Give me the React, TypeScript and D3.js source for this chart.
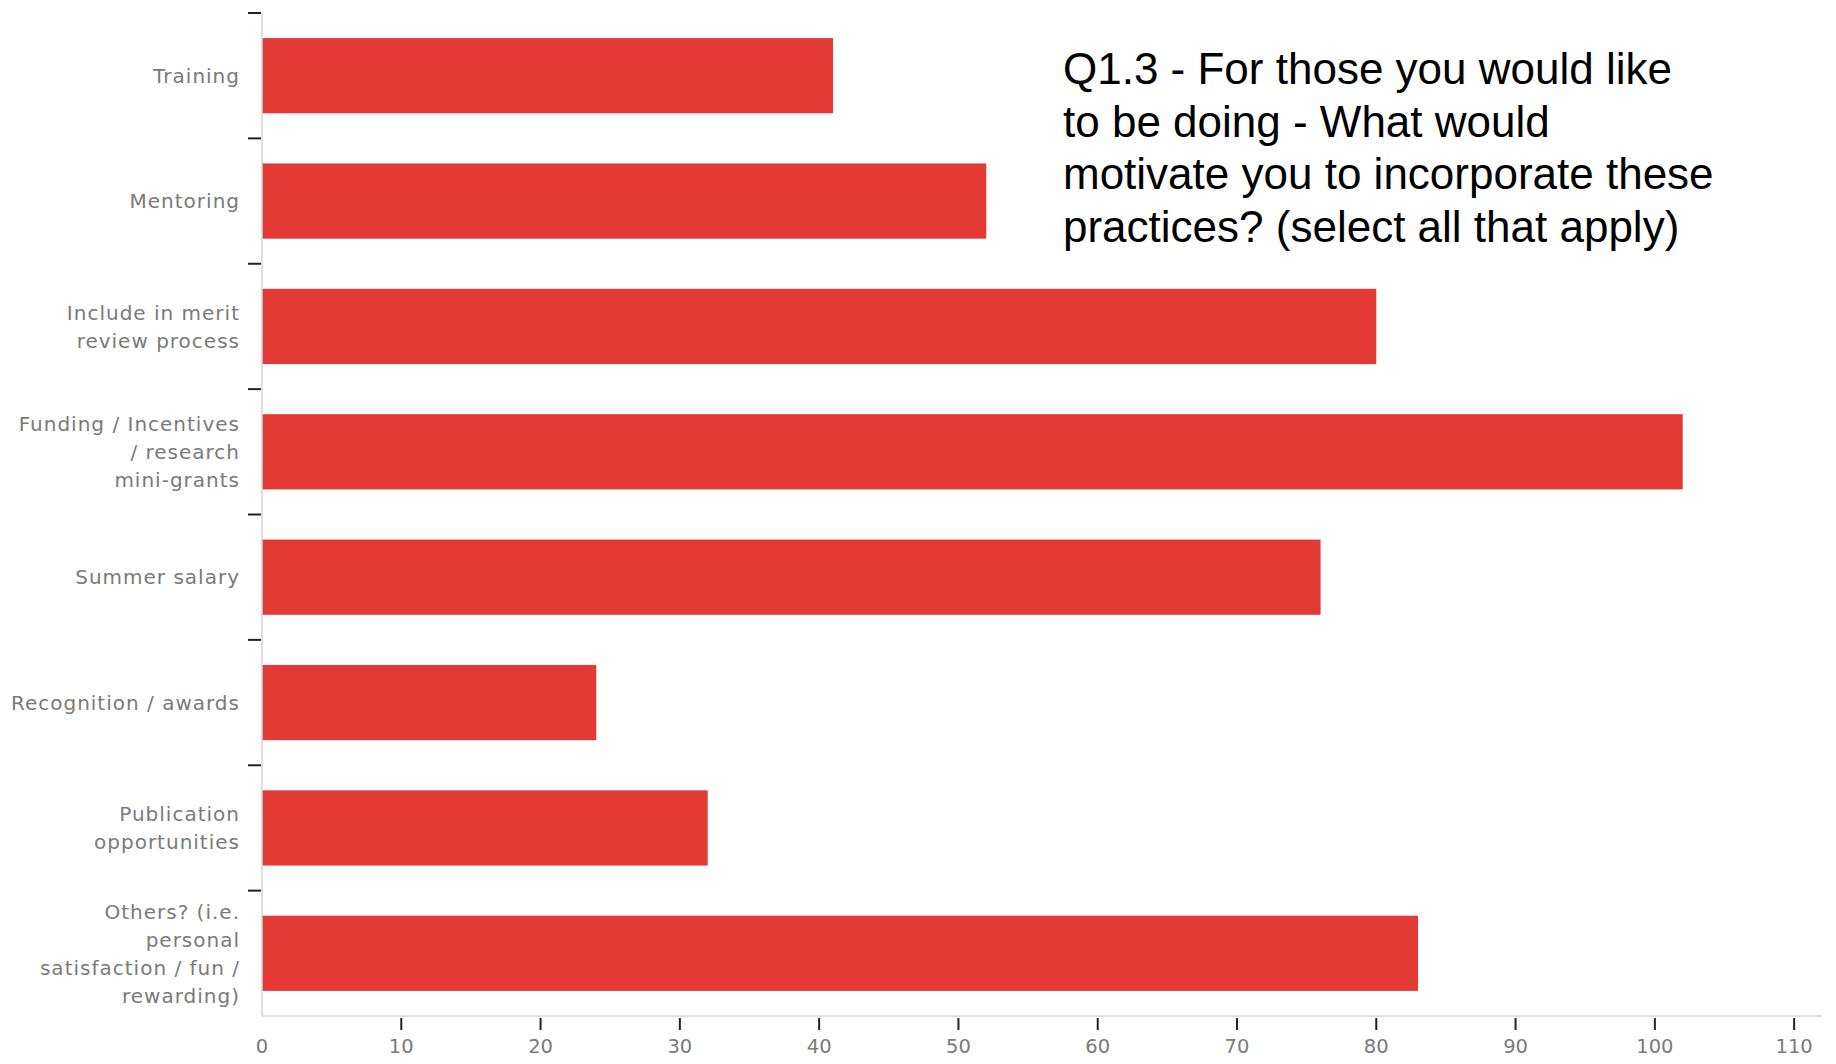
import React from "react";
import * as d3 from "d3";

const categories = [
  "Training",
  "Mentoring",
  "Include in merit review process",
  "Funding / Incentives / research mini-grants",
  "Summer salary",
  "Recognition / awards",
  "Publication opportunities",
  "Others? (i.e. personal satisfaction / fun / rewarding)",
];

const categoryLines = [
  ["Training"],
  ["Mentoring"],
  ["Include in merit", "review process"],
  ["Funding / Incentives", "/ research", "mini-grants"],
  ["Summer salary"],
  ["Recognition / awards"],
  ["Publication", "opportunities"],
  ["Others? (i.e.", "personal", "satisfaction / fun /", "rewarding)"],
];

const counts = [41, 52, 80, 102, 76, 24, 32, 83];

const xTicks = [0, 10, 20, 30, 40, 50, 60, 70, 80, 90, 100, 110];

const titleLines = [
  "Q1.3 - For those you would like",
  "to be doing - What would",
  "motivate you to incorporate these",
  "practices? (select all that apply)",
];

const W = 1836;
const H = 1064;
const left = 262;
const top = 13;
const bottom = 1016;
const right = 1822;

export default function App() {
  const x = d3.scaleLinear().domain([0, 112]).range([left, right]);
  const y = d3
    .scaleBand<string>()
    .domain(categories)
    .range([top, bottom])
    .paddingInner(0.4)
    .paddingOuter(0.2);
  const step = y.step();
  const labelFont = "'DejaVu Sans', sans-serif";
  const gray = "#7a7a7a";

  return (
    <svg
      width={W}
      height={H}
      style={{ position: "absolute", left: 0, top: 0, display: "block", background: "#fff" }}
    >
      {categories.map((c, i) => (
        <rect
          key={c}
          x={x(0)}
          y={y(c)!}
          width={x(counts[i]) - x(0)}
          height={y.bandwidth()}
          fill="#e43a36"
        />
      ))}

      <line x1={left} x2={left} y1={top} y2={bottom} stroke="#d4d4d4" strokeWidth={1.5} />
      <line x1={left} x2={right} y1={bottom} y2={bottom} stroke="#d4d4d4" strokeWidth={1.5} />

      {categories.map((c, i) => {
        const yy = y(c)! - step * 0.2;
        return (
          <line key={"yt" + i} x1={left - 14} x2={left - 1} y1={yy} y2={yy} stroke="#222" strokeWidth={2} />
        );
      })}

      {categories.map((c, i) => {
        const cy = y(c)! + y.bandwidth() / 2;
        const lines = categoryLines[i];
        const lh = 28;
        const start = cy - ((lines.length - 1) * lh) / 2;
        return (
          <text
            key={"yl" + i}
            textAnchor="end"
            fontFamily={labelFont}
            fontSize={20}
            letterSpacing={1.0}
            fill={gray}
          >
            {lines.map((l, j) => (
              <tspan key={j} x={240} y={start + j * lh} dy="0.36em">
                {l}
              </tspan>
            ))}
          </text>
        );
      })}

      {xTicks.map((t) => (
        <g key={"xt" + t}>
          {t !== 0 && (
            <line x1={x(t)} x2={x(t)} y1={bottom + 2} y2={bottom + 14} stroke="#222" strokeWidth={2} />
          )}
          <text
            x={x(t)}
            y={1046}
            dy="0.36em"
            textAnchor="middle"
            fontFamily={labelFont}
            fontSize={19.5}
            fill={gray}
          >
            {t}
          </text>
        </g>
      ))}

      <text fontFamily="'Liberation Sans', Arial, sans-serif" fontSize={44} fill="#000">
        {titleLines.map((l, j) => (
          <tspan key={j} x={1063} y={84 + j * 52.7}>
            {l}
          </tspan>
        ))}
      </text>
    </svg>
  );
}
